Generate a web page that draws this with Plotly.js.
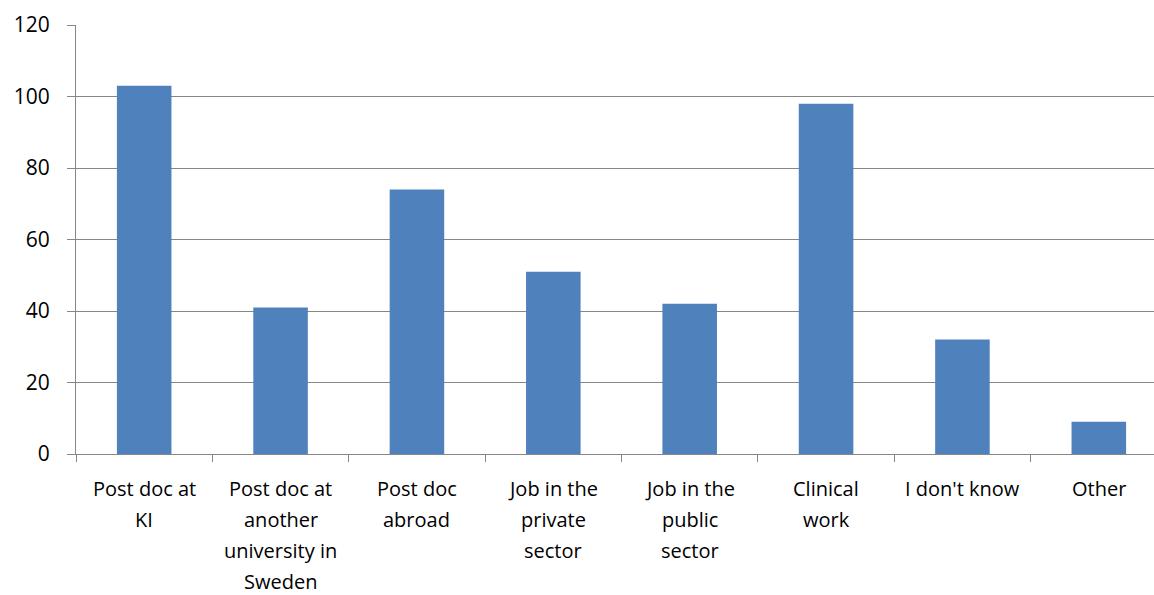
<!DOCTYPE html>
<html>
<head>
<meta charset="utf-8">
<script src="https://cdn.plot.ly/plotly-3.0.1.min.js"></script>
<style>
html,body{margin:0;padding:0;overflow:hidden;background:#fff;width:1154px;height:595px;}
#chart{width:1168px;height:595px;}
</style>
</head>
<body>
<div id="chart"></div>
<script>
const categories = ["Post doc at KI", "Post doc at another university in Sweden", "Post doc abroad", "Job in the private sector", "Job in the public sector", "Clinical work", "I don't know", "Other"];
const labelLines = [
  ["Post doc at", "KI"],
  ["Post doc at", "another", "university in", "Sweden"],
  ["Post doc", "abroad"],
  ["Job in the", "private", "sector"],
  ["Job in the", "public", "sector"],
  ["Clinical", "work"],
  ["I don't know"],
  ["Other"]
];
const values = [103, 41, 74, 51, 42, 98, 32, 9];
const yTicks = [0, 20, 40, 60, 80, 100, 120];

const FONT = "Open Sans, Liberation Sans, sans-serif";
const annotations = [];
labelLines.forEach((lines, ci) => {
  lines.forEach((ln, li) => {
    annotations.push({
      x: categories[ci], y: 0, xref: 'x', yref: 'y',
      text: ln, showarrow: false,
      xanchor: 'center', yanchor: 'middle',
      yshift: -34 - li * 31,
      font: {family: FONT, size: 20, color: '#000'}
    });
  });
});

const trace = {
  type: 'bar', x: categories, y: values,
  marker: {color: '#4F81BD'},
  hoverinfo: 'x+y'
};
const layout = {
  width: 1168, height: 595,
  margin: {l: 76, r: 1, t: 25, b: 141},
  paper_bgcolor: '#fff', plot_bgcolor: '#fff',
  showlegend: false,
  bargap: 0.6,
  xaxis: {
    type: 'category', showticklabels: false,
    ticks: 'outside', tickson: 'boundaries', ticklen: 7, tickcolor: '#868686', tickwidth: 1,
    showline: true, linecolor: '#868686', linewidth: 1,
    showgrid: false, zeroline: false, fixedrange: true
  },
  yaxis: {
    range: [0, 120], tickvals: yTicks, ticktext: yTicks.map(String),
    ticks: 'outside', ticklen: 8, tickcolor: '#868686', tickwidth: 1,
    showline: true, linecolor: '#868686', linewidth: 1,
    showgrid: true, gridcolor: '#868686', gridwidth: 1,
    zeroline: false,
    tickfont: {family: FONT, size: 21, color: '#000'},
    ticklabelstandoff: 13
  },
  annotations: annotations,
  font: {family: FONT, color: '#000'}
};
Plotly.newPlot('chart', [trace], layout, {displayModeBar: false, responsive: false});
</script>
</body>
</html>
